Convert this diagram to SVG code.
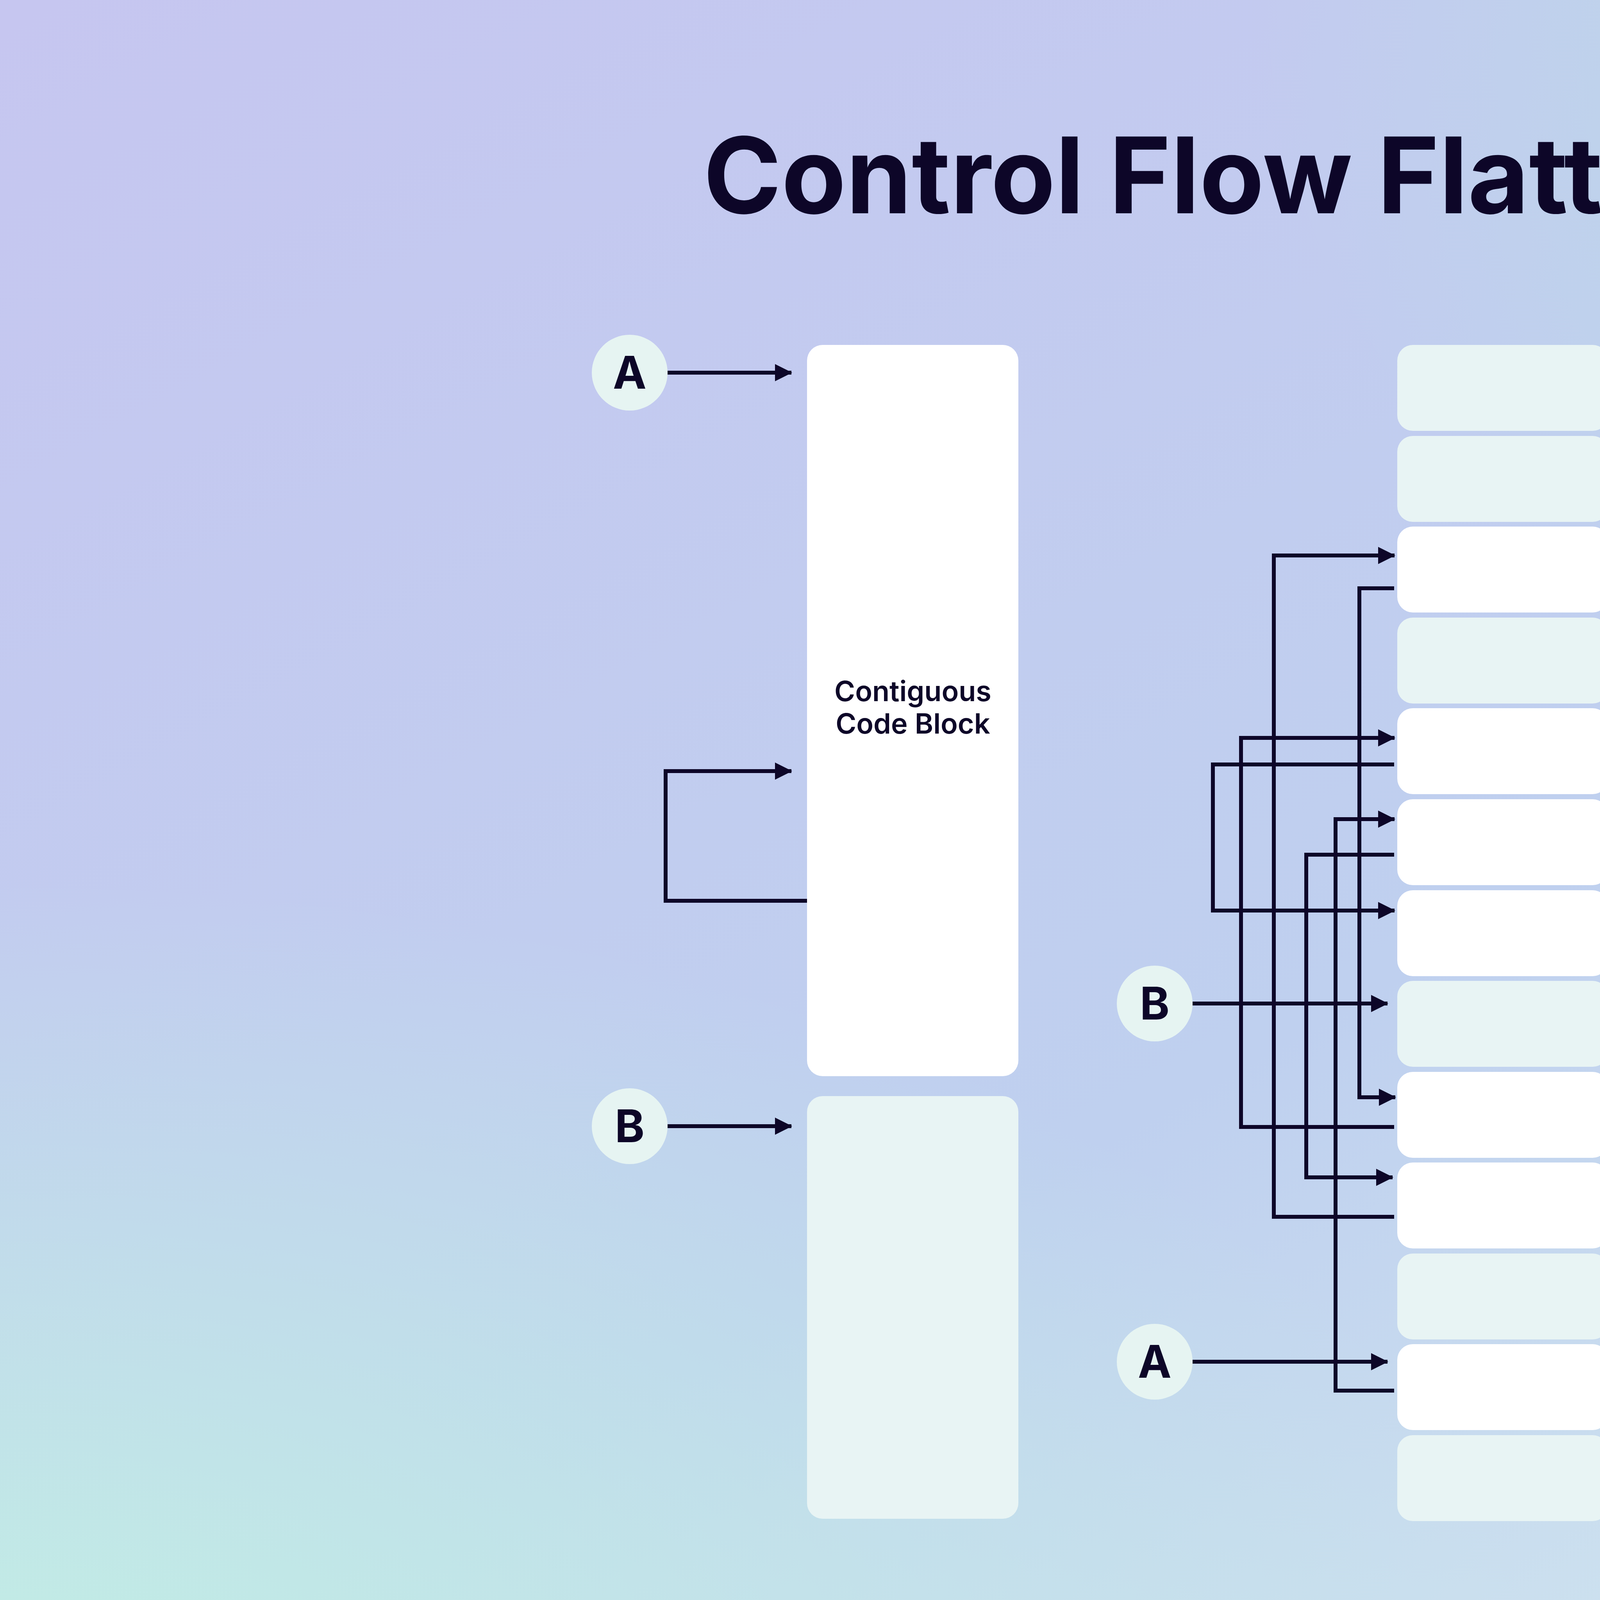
<svg xmlns="http://www.w3.org/2000/svg" width="8000" height="4500" viewBox="0 0 8000 4500">
<defs>
<linearGradient id="bg" x1="0" y1="0" x2="1" y2="1">
<stop offset="0" stop-color="#C6C6F0"/><stop offset="0.5" stop-color="#BFD0EF"/><stop offset="1" stop-color="#DDF6EE"/>
</linearGradient>
<radialGradient id="tr" cx="1" cy="0" r="0.6"><stop offset="0" stop-color="#B2EEDD"/><stop offset="1" stop-color="#B2EEDD" stop-opacity="0"/></radialGradient>
<radialGradient id="bl" cx="0" cy="1" r="0.5"><stop offset="0" stop-color="#C2F0E4"/><stop offset="1" stop-color="#C2F0E4" stop-opacity="0"/></radialGradient>
<marker id="ah" markerUnits="userSpaceOnUse" markerWidth="44" markerHeight="44" refX="42" refY="22" orient="auto"><path d="M0,0 L44,22 L0,44 z" fill="#0D0628"/></marker>
<marker id="as" markerUnits="userSpaceOnUse" markerWidth="44" markerHeight="44" refX="2" refY="22" orient="auto"><path d="M44,0 L0,22 L44,44 z" fill="#0D0628"/></marker>
</defs>
<style>
.w{fill:#FFFFFF}.l{fill:#E8F4F4}
.c{fill:none;stroke:#0D0628;stroke-width:10}
.a{marker-end:url(#ah)}
.t{font-family:Inter,"Liberation Sans",sans-serif;fill:#0D0628}
.lab{font-size:95px;font-weight:600;text-anchor:middle}
.let{font-size:115px;font-weight:700;text-anchor:middle}
.cir{fill:#E6F4F2}
</style>
<rect width="8000" height="4500" fill="url(#bg)"/>
<rect width="8000" height="4500" fill="url(#tr)"/>
<rect width="8000" height="4500" fill="url(#bl)"/>
<text class="t" x="4122" y="546" font-size="270" font-weight="700" text-anchor="middle">Control Flow Flattening Techniques</text>

<g id="original">
<rect id="contiguous" class="w" x="2066" y="883" width="541" height="1872" rx="40"/>
<text class="t" x="2337" y="1795" font-size="72" font-weight="600" text-anchor="middle">Contiguous</text>
<text class="t" x="2337" y="1878" font-size="72" font-weight="600" text-anchor="middle">Code Block</text>
<rect id="orig-lower" class="l" x="2066" y="2806" width="541" height="1082" rx="40"/>
</g>
<g id="orig-A"><circle class="cir" cx="1612" cy="954" r="97"/><text class="t let" x="1612" y="995">A</text></g>
<g id="orig-B"><circle class="cir" cx="1612" cy="2883" r="97"/><text class="t let" x="1612" y="2924">B</text></g>

<g id="split-blocks">
<rect class="l" x="3577" y="883" width="540" height="220" rx="40"/>
<rect class="l" x="3577" y="1116" width="540" height="220" rx="40"/>
<rect class="w" x="3577" y="1348" width="540" height="220" rx="40"/>
<rect class="l" x="3577" y="1581" width="540" height="220" rx="40"/>
<rect class="w" x="3577" y="1813" width="540" height="220" rx="40"/>
<rect class="w" x="3577" y="2046" width="540" height="220" rx="40"/>
<rect class="w" x="3577" y="2279" width="540" height="220" rx="40"/>
<rect class="l" x="3577" y="2511" width="540" height="220" rx="40"/>
<rect class="w" x="3577" y="2744" width="540" height="220" rx="40"/>
<rect class="w" x="3577" y="2976" width="540" height="220" rx="40"/>
<rect class="l" x="3577" y="3209" width="540" height="220" rx="40"/>
<rect class="w" x="3577" y="3441" width="540" height="220" rx="40"/>
<rect class="l" x="3577" y="3674" width="540" height="220" rx="40"/>
</g>
<g id="split-B"><circle class="cir" cx="2956" cy="2569" r="97"/><text class="t let" x="2956" y="2610">B</text></g>
<g id="split-A"><circle class="cir" cx="2956" cy="3486" r="97"/><text class="t let" x="2956" y="3527">A</text></g>

<g id="flat-blocks">
<rect class="l" x="5087" y="883" width="536" height="220" rx="40"/>
<rect class="l" x="5087" y="1116" width="536" height="220" rx="40"/>
<rect class="w" x="5087" y="1348" width="536" height="220" rx="40"/>
<rect class="l" x="5087" y="1581" width="536" height="220" rx="40"/>
<rect class="w" x="5087" y="1813" width="536" height="220" rx="40"/>
<rect class="w" x="5087" y="2046" width="536" height="220" rx="40"/>
<rect class="w" x="5087" y="2279" width="536" height="220" rx="40"/>
<rect class="l" x="5087" y="2511" width="536" height="220" rx="40"/>
<rect class="w" x="5087" y="2744" width="536" height="220" rx="40"/>
<rect class="w" x="5087" y="2976" width="536" height="220" rx="40"/>
<rect class="l" x="5087" y="3209" width="536" height="220" rx="40"/>
<rect class="w" x="5087" y="3441" width="536" height="220" rx="40"/>
<rect class="l" x="5087" y="3674" width="536" height="220" rx="40"/>
</g>
<g id="dispatcher"><circle cx="6107" cy="2352" r="148" fill="#4516EE"/><text x="6107" y="2410" font-family="Inter,'Liberation Sans',sans-serif" font-size="170" font-weight="700" fill="#FFFFFF" text-anchor="middle">?</text></g>
<g id="flat-A"><circle class="cir" cx="6719" cy="2138" r="97"/><text class="t let" x="6719" y="2179">A</text></g>
<g id="flat-B"><circle class="cir" cx="6719" cy="2602" r="97"/><text class="t let" x="6719" y="2643">B</text></g>

<g id="connectors">
<!-- original -->
<path class="c a" d="M1709,954 H2026"/>
<path class="c a" d="M1709,2883 H2026"/>
<path class="c a" d="M2066,2306 H1704 V1974 H2026"/>
<!-- split right side -->
<path class="c a" d="M4122,3350 H4268 V964 H4120"/>
<path class="c a" d="M4122,1750 H4327 V1201 H4120"/>
<path class="c a" d="M4122,2640 H4376 V1669 H4120"/>
<path class="c a" d="M4122,1266 H4468 V3285 H4120"/>
<path class="c a" d="M4122,1035 H4544 V3780 H4120"/>
<!-- split left side -->
<path class="c a" d="M3569,3115 H3261 V1422 H3570"/>
<path class="c a" d="M3569,1506 H3480 V2809 H3572"/>
<path class="c a" d="M3569,2885 H3177 V1889 H3570"/>
<path class="c a" d="M3569,1957 H3105 V2331 H3570"/>
<path class="c a" d="M3569,3560 H3419 V2097 H3570"/>
<path class="c a" d="M3569,2188 H3344 V3014 H3565"/>
<path class="c a" d="M3053,2569 H3552"/>
<path class="c a" d="M3053,3486 H3552"/>
<!-- flattening -->
<path class="c a" d="M6107,990 V2194"/>
<path class="c a" d="M6107,3770 V2510"/>
<path class="c a" d="M6107,990 H5648"/>
<path class="c a" d="M6107,1209 H5648"/>
<path class="c a" d="M6107,1444 H5648"/>
<path class="c a" d="M6107,1694 H5648"/>
<path class="c a" d="M6107,1924 H5648"/>
<path class="c a" d="M6107,2128 H5648"/>
<path class="c a" d="M5650,2352 H5954" marker-start="url(#as)"/>
<path class="c a" d="M6107,2617 H5648"/>
<path class="c a" d="M6107,2852 H5648"/>
<path class="c a" d="M6107,3092 H5648"/>
<path class="c a" d="M6107,3311 H5648"/>
<path class="c a" d="M6107,3536 H5648"/>
<path class="c a" d="M6107,3770 H5648"/>
<path class="c a" d="M6622,2158 L6270,2276"/>
<path class="c a" d="M6622,2561 L6270,2444"/>
</g>

<text class="t lab" x="2337" y="4200">Original Compiler Output</text>
<text class="t lab" x="3811" y="4200">After Block Splitting</text>
<text class="t lab" x="5694" y="4200">After Control Flow Flattening</text>
</svg>
